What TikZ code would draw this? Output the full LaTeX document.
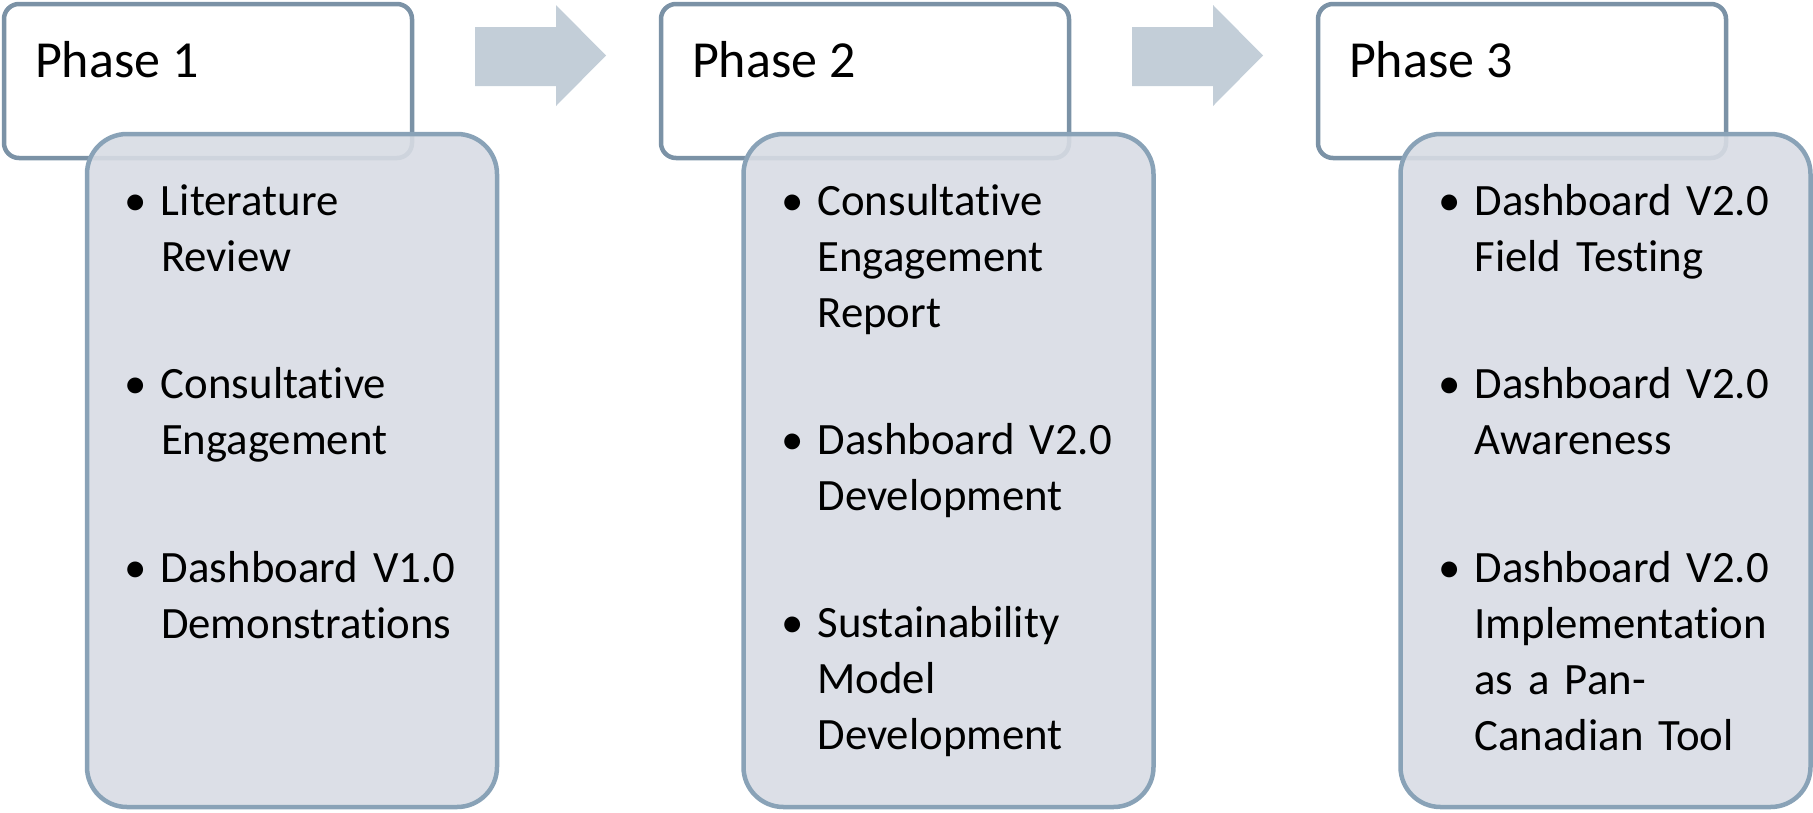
\documentclass[tikz,border=0pt]{standalone}
\usepackage{fontspec}
\setmainfont{Carlito}[Ligatures=NoCommon]
\usetikzlibrary{calc}
\definecolor{phaseline}{HTML}{7B92A6}
\definecolor{detailline}{HTML}{89A2B7}
\definecolor{detailfill}{HTML}{D8DCE4}
\definecolor{arrowfill}{HTML}{C3CED8}
\tikzset{
  phasebox/.style={draw=phaseline, line width=4.5pt, rounded corners=15pt, fill=white,
    minimum width=408pt, minimum height=154pt, inner sep=0pt, outer sep=0pt},
  detailbox/.style={draw=detailline, line width=4.5pt, rounded corners=40pt, fill=detailfill,
    fill opacity=0.9, draw opacity=1, minimum width=410pt, minimum height=673pt,
    inner sep=0pt, outer sep=0pt},
  titletext/.style={anchor=base west, inner sep=0pt, outer sep=0pt,
    font=\fontsize{52}{62}\selectfont},
  itemtext/.style={anchor=base west, inner sep=0pt, outer sep=0pt, text width=330pt,
    align=left, font=\fontsize{44.8}{56}\selectfont},
  phasearrow/.style={fill=arrowfill, draw=none}
}
\newcommand{\bul}{\llap{\textbullet\hspace{14pt}}}
\begin{document}
\begin{tikzpicture}[x=1pt,y=-1pt]
\useasboundingbox (0,0) rectangle (1813,812);

% phase boxes
\node[phasebox] (p1) at (208,81) {};
\node[phasebox] (p2) at (865,81) {};
\node[phasebox] (p3) at (1522,81) {};

% detail boxes
\node[detailbox] (d1) at (292,470.5) {};
\node[detailbox] (d2) at (948.5,470.5) {};
\node[detailbox] (d3) at (1605.5,470.5) {};

% arrows
\foreach \s/\n in {0/1,657/2}{
  \fill[phasearrow] (475+\s,27) -- (556+\s,27) -- (556+\s,5) -- (606+\s,55.5)
    -- (556+\s,106) -- (556+\s,86) -- (475+\s,86) -- cycle;
}

% titles
\node[titletext] (t1) at ($(p1.north west)+(31,73)$) {Phase 1};
\node[titletext] (t2) at ($(p2.north west)+(31,73)$) {Phase 2};
\node[titletext] (t3) at ($(p3.north west)+(31,73)$) {Phase 3};

% items phase 1
\node[itemtext] (a1) at ($(d1.north west)+(74,81)$) {\bul Literature\\Review};
\node[itemtext] (a2) at ($(d1.north west)+(74,264)$) {\bul Consultative\\Engagement};
\node[itemtext] (a3) at ($(d1.north west)+(74,448)$) {\bul Dashboard V1.0\\Demonstrations};

% items phase 2
\node[itemtext] (b1) at ($(d2.north west)+(74,81)$) {\bul Consultative\\Engagement\\Report};
\node[itemtext] (b2) at ($(d2.north west)+(74,320)$) {\bul Dashboard V2.0\\Development};
\node[itemtext] (b3) at ($(d2.north west)+(74,503)$) {\bul Sustainability\\Model\\Development};

% items phase 3
\node[itemtext] (c1) at ($(d3.north west)+(74,81)$) {\bul Dashboard V2.0\\Field Testing};
\node[itemtext] (c2) at ($(d3.north west)+(74,264)$) {\bul Dashboard V2.0\\Awareness};
\node[itemtext] (c3) at ($(d3.north west)+(74,448)$) {\bul Dashboard V2.0\\Implementation\\as a Pan-\\Canadian Tool};
\end{tikzpicture}
\end{document}
